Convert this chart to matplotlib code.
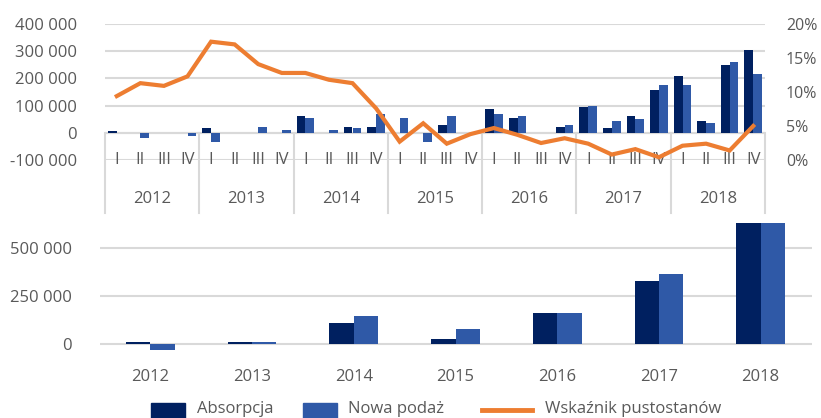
import numpy as np
import matplotlib.pyplot as plt
from matplotlib.patches import Rectangle
from matplotlib.lines import Line2D
import matplotlib.transforms as mtransforms

plt.rcParams['font.family'] = ['Open Sans', 'DejaVu Sans']

# quarterly data
years = ['2012', '2013', '2014', '2015', '2016', '2017', '2018']
quarters = ['I', 'II', 'III', 'IV']
absorpcja_q = [8000, 0, 0, 0,
               16000, 0, 0, 0,
               62000, 0, 23000, 23000,
               0, 0, 29000, 0,
               88000, 56000, 0, 22000,
               94000, 17000, 62000, 157000,
               209000, 43000, 248000, 305000]
nowa_q = [0, -20000, 0, -13000,
          -34000, 0, 23000, 10000,
          56000, 10000, 17000, 68000,
          56000, -34000, 62000, 0,
          68000, 62000, 0, 29000,
          100000, 43000, 50000, 177000,
          177000, 35000, 261000, 216000]
pustostany = [9.4, 11.3, 10.9, 12.3,
              17.4, 17.0, 14.1, 12.8,
              12.8, 11.8, 11.3, 7.6,
              2.7, 5.4, 2.4, 3.8,
              4.7, 3.7, 2.5, 3.2,
              2.4, 0.8, 1.6, 0.4,
              2.1, 2.4, 1.4, 5.0]

# annual data
absorpcja_y = [9000, 10000, 111000, 26000, 163000, 330000, 805000]
nowa_y = [-30000, 10000, 146000, 79000, 163000, 365000, 695000]

navy = '#002060'
blue = '#2F59A7'
orange = '#ED7D31'
grey = '#595959'
grid = '#D9D9D9'
fs = 12

W, H = 821, 418
fig = plt.figure(figsize=(W / 100, H / 100), dpi=100)

def px_axes(x0, y0, x1, y1):
    return fig.add_axes([x0 / W, 1 - y1 / H, (x1 - x0) / W, (y1 - y0) / H])

# ---------- top panel ----------
ax = px_axes(105, 24, 765, 160)
x = np.arange(len(absorpcja_q))
w = 0.37
ax.bar(x - w / 2, absorpcja_q, w, color=navy, zorder=3)
ax.bar(x + w / 2, nowa_q, w, color=blue, zorder=3)
ax.set_xlim(-0.5, len(x) - 0.5)
ax.set_ylim(-100000, 400000)
ax.set_yticks(np.arange(-100000, 400001, 100000))
ax.set_yticklabels([f'{v:,}'.replace(',', ' ') for v in range(-100000, 400001, 100000)])
ax.grid(axis='y', color=grid, lw=1.5, zorder=0)
ax.axhline(0, color=grid, lw=1.5, zorder=1)
for s in ax.spines.values():
    s.set_visible(False)
ax.tick_params(axis='y', length=0, pad=20, labelsize=fs, labelcolor=grey)
ax.set_xticks([])

# multi-level category labels
trans = mtransforms.blended_transform_factory(ax.transData, ax.transAxes)
for i in range(len(x)):
    ax.text(i, -100000, quarters[i % 4], ha='center', va='center',
            fontsize=fs, color=grey, clip_on=False)
for j, yr in enumerate(years):
    ax.text(j * 4 + 1.5, -0.29, yr, transform=trans, ha='center', va='center',
            fontsize=fs, color=grey)
for j in range(len(years) + 1):
    ax.plot([j * 4 - 0.5] * 2, [0.2, -0.39], transform=trans, color=grid,
            lw=1.5, clip_on=False, zorder=1)

ax2 = ax.twinx()
ax2.plot(x, pustostany, color=orange, lw=3, solid_joinstyle='miter', zorder=4)
ax2.set_ylim(0, 20)
ax2.set_yticks([0, 5, 10, 15, 20])
ax2.set_yticklabels(['0%', '5%', '10%', '15%', '20%'])
for s in ax2.spines.values():
    s.set_visible(False)
ax2.tick_params(axis='y', length=0, pad=15, labelsize=11.5, labelcolor=grey)

# ---------- bottom panel ----------
bx = px_axes(99.5, 223, 811.5, 352)
xb = np.arange(len(years))
wb = 0.24
bx.bar(xb - wb / 2, absorpcja_y, wb, color=navy, zorder=3)
bx.bar(xb + wb / 2, nowa_y, wb, color=blue, zorder=3)
bx.set_xlim(-0.5, len(years) - 0.5)
bx.set_ylim(-41700, 630000)
bx.set_yticks([0, 250000, 500000])
bx.set_yticklabels(['0', '250 000', '500 000'])
bx.grid(axis='y', color=grid, lw=1.5, zorder=0)
for s in bx.spines.values():
    s.set_visible(False)
bx.set_xticks(xb)
bx.set_xticklabels(years)
bx.tick_params(axis='both', length=0, labelsize=fs, labelcolor=grey)
bx.tick_params(axis='y', pad=20)
bx.tick_params(axis='x', pad=12)

# ---------- legend ----------
def fx(p):
    return p / W

def fy(p):
    return 1 - p / H

fig.add_artist(Rectangle((fx(151), fy(421)), fx(34), (421 - 403) / H,
                         color=navy, transform=fig.transFigure))
fig.text(fx(197), fy(413), 'Absorpcja', fontsize=fs, color=grey, va='baseline')
fig.add_artist(Rectangle((fx(303), fy(421)), fx(34), (421 - 403) / H,
                         color=blue, transform=fig.transFigure))
fig.text(fx(348), fy(413), 'Nowa podaż', fontsize=fs, color=grey, va='baseline')
fig.add_artist(Line2D([fx(482), fx(532)], [fy(410), fy(410)], color=orange,
                      lw=3.5, transform=fig.transFigure))
fig.text(fx(545), fy(413), 'Wskaźnik pustostanów', fontsize=fs, color=grey, va='baseline')

plt.savefig('out.png', dpi=100)
